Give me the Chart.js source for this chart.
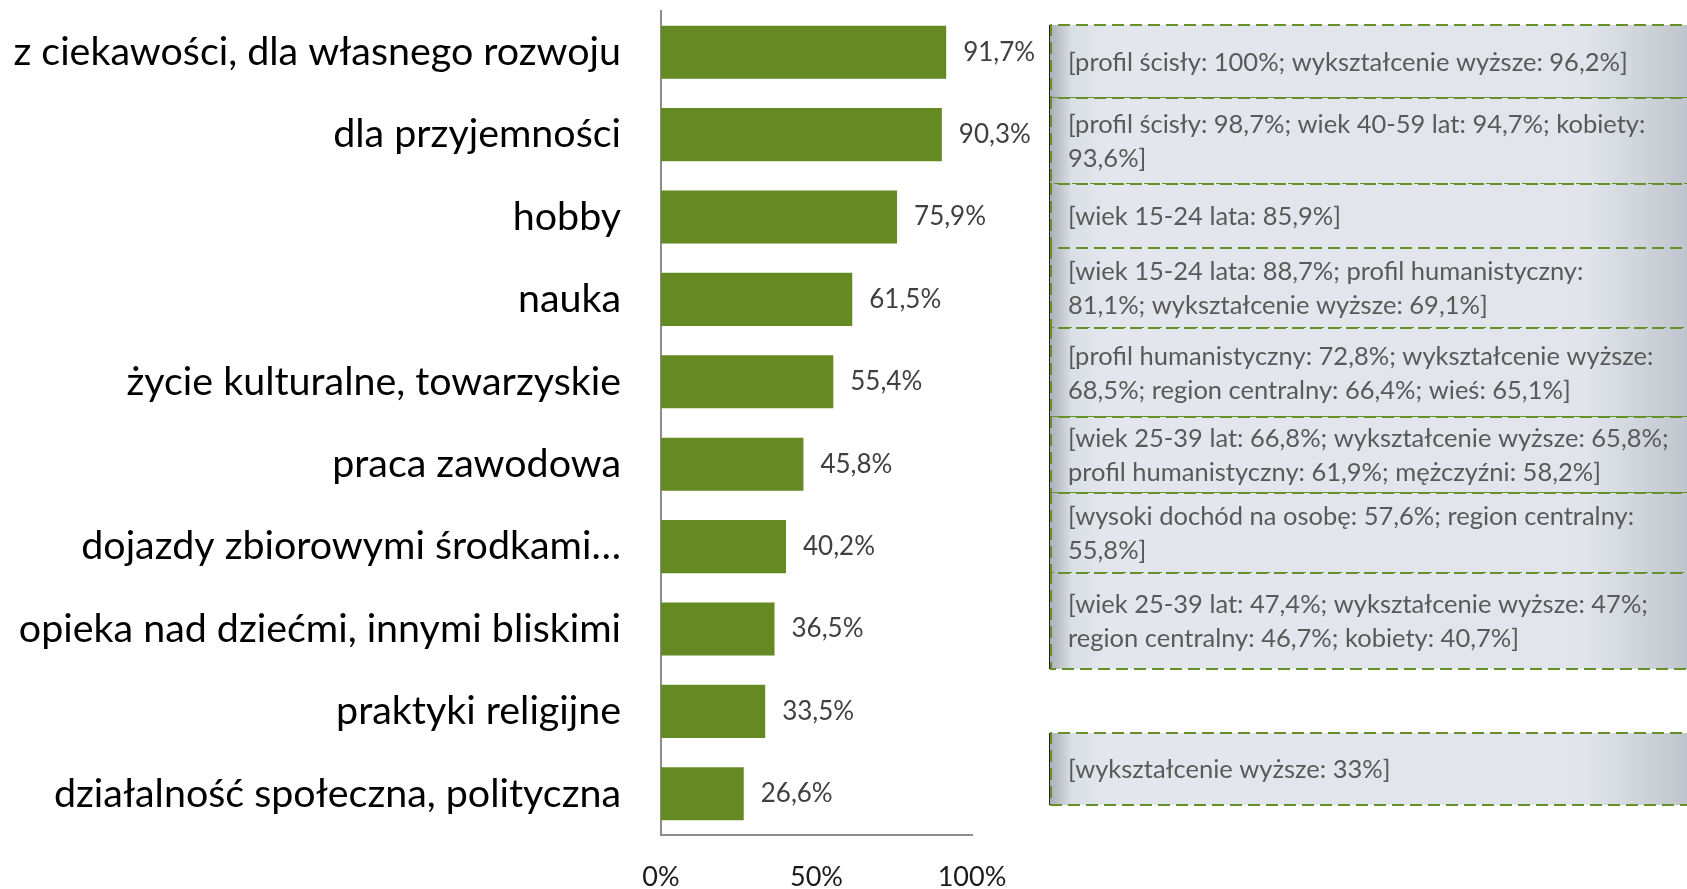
<!DOCTYPE html>
<html>
<head>
<meta charset="utf-8">
<script src="https://cdn.jsdelivr.net/npm/chart.js@4.4.1/dist/chart.umd.min.js"></script>
<style>
  html, body { margin: 0; padding: 0; background: #fff; overflow: hidden; }
  #wrap { position: relative; width: 1687px; height: 889px; }
</style>
</head>
<body>
<div id="wrap"><canvas id="chart" width="1687" height="889"></canvas></div>
<script>
const categories = [
  'z ciekawości, dla własnego rozwoju',
  'dla przyjemności',
  'hobby',
  'nauka',
  'życie kulturalne, towarzyskie',
  'praca zawodowa',
  'dojazdy zbiorowymi środkami…',
  'opieka nad dziećmi, innymi bliskimi',
  'praktyki religijne',
  'działalność społeczna, polityczna'
];
const values = [91.7, 90.3, 75.9, 61.5, 55.4, 45.8, 40.2, 36.5, 33.5, 26.6];
const xTicks = [0, 50, 100];

// notes shown right of each bar (null = no note), line breaks as in the source
const notes = [
  ['[profil ścisły: 100%; wykształcenie wyższe: 96,2%]'],
  ['[profil ścisły: 98,7%; wiek 40-59 lat: 94,7%; kobiety:', '93,6%]'],
  ['[wiek 15-24 lata: 85,9%]'],
  ['[wiek 15-24 lata: 88,7%; profil humanistyczny:', '81,1%; wykształcenie wyższe: 69,1%]'],
  ['[profil humanistyczny: 72,8%; wykształcenie wyższe:', '68,5%; region centralny: 66,4%; wieś: 65,1%]'],
  ['[wiek 25-39 lat: 66,8%; wykształcenie wyższe: 65,8%;', 'profil humanistyczny: 61,9%; mężczyźni: 58,2%]'],
  ['[wysoki dochód na osobę: 57,6%; region centralny:', '55,8%]'],
  ['[wiek 25-39 lat: 47,4%; wykształcenie wyższe: 47%;', 'region centralny: 46,7%; kobiety: 40,7%]'],
  null,
  ['[wykształcenie wyższe: 33%]']
];

// layout of the note boxes (top/bottom in px), not data
const noteRows = [[25, 98], [98, 184], [184, 248], [248, 328], [328, 417], [417, 493], [493, 573], [573, 669], null, [733, 805]];
const BOX_LEFT = 1049, BOX_RIGHT = 1700;
const FONT = 'Lato';

const fmt = v => v.toFixed(1).replace('.', ',') + '%';

const barLabels = {
  id: 'barLabels',
  afterDatasetsDraw(chart) {
    const ctx = chart.ctx;
    ctx.save();
    ctx.font = '26px ' + FONT;
    ctx.fillStyle = '#404040';
    ctx.textAlign = 'left';
    ctx.textBaseline = 'middle';
    chart.getDatasetMeta(0).data.forEach((bar, i) => {
      ctx.fillText(fmt(values[i]), bar.x + 17, bar.y);
    });
    ctx.restore();
  }
};

const noteBoxes = {
  id: 'noteBoxes',
  afterDraw(chart) {
    const ctx = chart.ctx;
    ctx.save();
    const grad = ctx.createLinearGradient(BOX_LEFT, 0, 1687, 0);
    grad.addColorStop(0, '#a8adb5');
    grad.addColorStop(0.035, '#dadee5');
    grad.addColorStop(0.09, '#e3e7ed');
    grad.addColorStop(0.84, '#e1e5eb');
    grad.addColorStop(0.93, '#cfd3da');
    grad.addColorStop(1, '#c0c5cd');
    noteRows.forEach((row, i) => {
      if (!row || !notes[i]) return;
      const [top, bottom] = row;
      ctx.fillStyle = grad;
      ctx.fillRect(BOX_LEFT, top, BOX_RIGHT - BOX_LEFT, bottom - top);
      // dark left edge
      ctx.strokeStyle = '#222';
      ctx.lineWidth = 1;
      ctx.setLineDash([]);
      ctx.beginPath();
      ctx.moveTo(BOX_LEFT + 0.5, top);
      ctx.lineTo(BOX_LEFT + 0.5, bottom);
      ctx.stroke();
      // dashed green outline
      ctx.strokeStyle = '#66902a';
      ctx.lineWidth = 2;
      ctx.setLineDash([12, 6]);
      ctx.beginPath();
      ctx.moveTo(BOX_RIGHT, top);
      ctx.lineTo(BOX_LEFT + 2, top);
      ctx.lineTo(BOX_LEFT + 2, bottom);
      ctx.lineTo(BOX_RIGHT, bottom);
      ctx.stroke();
      // text
      const lines = notes[i];
      const lh = 34;
      const mid = (top + bottom) / 2 + 1;
      ctx.fillStyle = '#595959';
      ctx.font = '25.5px ' + FONT;
      ctx.textAlign = 'left';
      ctx.textBaseline = 'middle';
      lines.forEach((t, k) => {
        ctx.fillText(t, 1068, mid + (k - (lines.length - 1) / 2) * lh);
      });
    });
    ctx.restore();
  }
};

new Chart(document.getElementById('chart'), {
  type: 'bar',
  data: {
    labels: categories,
    datasets: [{
      data: values,
      backgroundColor: '#658a23',
      barPercentage: 0.645,
      categoryPercentage: 1
    }]
  },
  options: {
    indexAxis: 'y',
    responsive: false,
    animation: false,
    devicePixelRatio: 1,
    layout: { padding: { top: 11, right: 715, left: 0, bottom: 0 } },
    plugins: { legend: { display: false }, tooltip: { enabled: false } },
    scales: {
      x: {
        min: 0, max: 100,
        afterBuildTicks(s) { s.ticks = xTicks.map(v => ({ value: v })); },
        ticks: { callback: v => v + '%', font: { family: FONT, size: 27 }, color: '#1a1a1a', padding: 26 },
        grid: { display: false, drawTicks: false },
        border: { color: '#8c8c8c', width: 2 },
        afterFit(s) { s.height = 54; }
      },
      y: {
        ticks: { font: { family: FONT, size: 39.4 }, color: '#000', padding: 40 },
        grid: { display: false, drawTicks: false },
        border: { color: '#8c8c8c', width: 2 },
        afterFit(s) { s.width = 661; s.paddingTop = 0; s.paddingBottom = 0; }
      }
    }
  },
  plugins: [barLabels, noteBoxes]
});
</script>
</body>
</html>
